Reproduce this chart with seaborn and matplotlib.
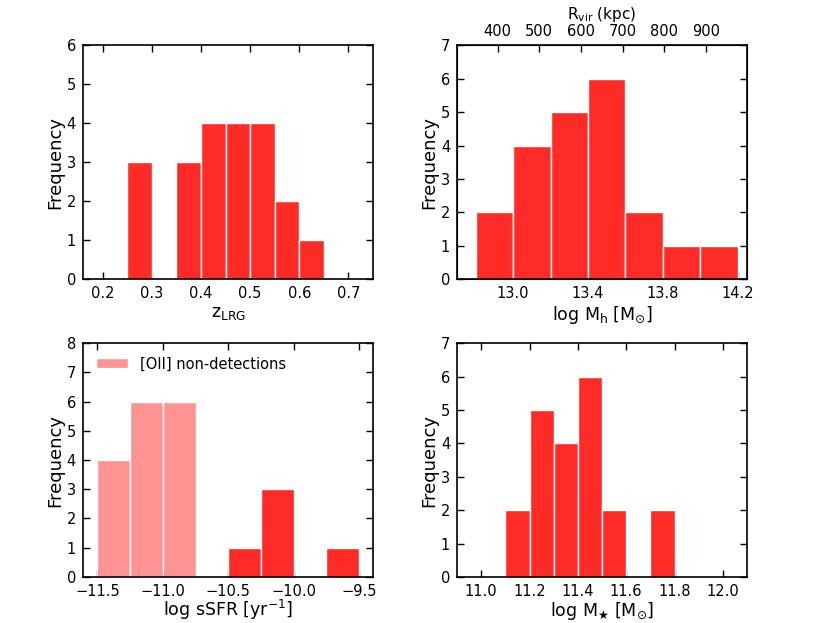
import matplotlib
matplotlib.use("Agg")
import matplotlib.pyplot as plt
import seaborn as sns
import numpy as np

# ---- data (bin edges + counts) ----
z_edges = [0.25, 0.30, 0.35, 0.40, 0.45, 0.50, 0.55, 0.60, 0.65]
z_counts = [3, 0, 3, 4, 4, 4, 2, 1]

mh_edges = [12.8, 13.0, 13.2, 13.4, 13.6, 13.8, 14.0, 14.2]
mh_counts = [2, 4, 5, 6, 2, 1, 1]

# top axis of the halo mass panel: R_vir labels and where they sit in log Mh
rvir_labels = ["400", "500", "600", "700", "800", "900"]
rvir_pos = [12.917, 13.138, 13.364, 13.586, 13.808, 14.031]

ssfr_edges = [-11.5, -11.25, -11.0, -10.75, -10.5, -10.25, -10.0, -9.75, -9.5]
ssfr_nondet = [4, 6, 6, 0, 0, 0, 0, 0]
ssfr_det = [0, 0, 0, 0, 1, 3, 0, 1]

ms_edges = [11.1, 11.2, 11.3, 11.4, 11.5, 11.6, 11.7, 11.8]
ms_counts = [2, 5, 4, 6, 2, 0, 2]

RED = "#ff2b26"

sns.set_style("ticks", {"xtick.direction": "in", "ytick.direction": "in"})
plt.rcParams["font.family"] = ["DejaVu Sans"]
plt.rcParams.update({"text.color": "black", "axes.labelcolor": "black",
                     "xtick.color": "black", "ytick.color": "black",
                     "axes.edgecolor": "black"})


def hist(ax, edges, counts, **kw):
    e = np.asarray(edges)
    centers = list(0.5 * (e[:-1] + e[1:]))
    sns.histplot(x=centers, weights=list(counts), bins=list(edges), ax=ax,
                 edgecolor="white", linewidth=1, **kw)


def style(ax, top=True):
    ax.tick_params(axis="both", which="major", direction="in", length=5,
                   width=1, labelsize=10.5, top=top, right=True, pad=5)
    for sp in ax.spines.values():
        sp.set_linewidth(1.2)
    ax.set_ylabel("Frequency", fontsize=13, labelpad=2)


fig, axes = plt.subplots(2, 2, figsize=(8.3, 6.23), dpi=100)
fig.subplots_adjust(left=0.1, right=0.9, top=0.927, bottom=0.074,
                    hspace=0.274, wspace=0.29)

# top-left: redshift
ax = axes[0, 0]
hist(ax, z_edges, z_counts, color=RED, alpha=1)
ax.set_xlim(0.16, 0.75)
ax.set_ylim(0, 6)
ax.set_xticks([0.2, 0.3, 0.4, 0.5, 0.6, 0.7])
ax.set_xlabel(r"z$_{\rm LRG}$", fontsize=12.5, labelpad=2)
style(ax)

# top-right: halo mass with R_vir on top
ax = axes[0, 1]
hist(ax, mh_edges, mh_counts, color=RED, alpha=1)
ax.set_xlim(12.7, 14.25)
ax.set_ylim(0, 7)
ax.set_xticks([13.0, 13.4, 13.8, 14.2])
ax.set_xlabel(r"log M$_{\rm h}$ [M$_{\odot}$]", fontsize=12.5, labelpad=2)
style(ax, top=False)
ax2 = ax.twiny()
ax2.set_xlim(ax.get_xlim())
ax2.set_xticks(rvir_pos)
ax2.set_xticklabels(rvir_labels)
ax2.tick_params(axis="x", direction="in", length=5, width=1, labelsize=10.5,
                top=True, bottom=False, pad=5)
ax2.set_xlabel(r"R$_{\rm vir}$ (kpc)", fontsize=11, labelpad=3)

# bottom-left: sSFR
ax = axes[1, 0]
hist(ax, ssfr_edges, ssfr_nondet, color=RED, alpha=0.5,
     label="[OII] non-detections")
hist(ax, ssfr_edges, ssfr_det, color=RED, alpha=1)
ax.set_xlim(-11.61, -9.395)
ax.set_ylim(0, 8)
ax.set_xticks([-11.5, -11.0, -10.5, -10.0, -9.5])
ax.set_xlabel(r"log sSFR [yr$^{-1}$]", fontsize=12.5, labelpad=-1)
style(ax)
ax.legend(loc="upper left", frameon=False, fontsize=10.5, handlelength=2.2)

# bottom-right: stellar mass
ax = axes[1, 1]
hist(ax, ms_edges, ms_counts, color=RED, alpha=1)
ax.set_xlim(10.9, 12.1)
ax.set_ylim(0, 7)
ax.set_xticks([11.0, 11.2, 11.4, 11.6, 11.8, 12.0])
ax.set_xlabel(r"log M$_{\bigstar}$ [M$_{\odot}$]", fontsize=12.5, labelpad=1)
style(ax)

fig.savefig("out.png", dpi=100)
